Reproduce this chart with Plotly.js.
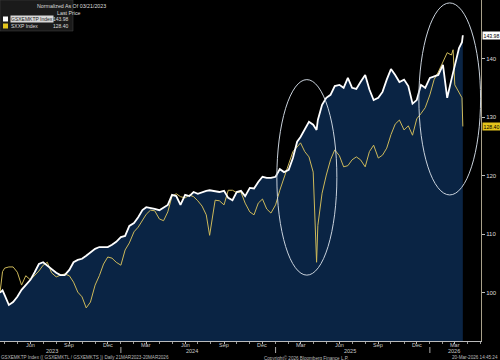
<!DOCTYPE html>
<html><head><meta charset="utf-8">
<script src="https://cdn.plot.ly/plotly-3.0.1.min.js"></script>
<style>html,body{margin:0;padding:0;background:#000;}#chart{width:500px;height:360px;}</style>
</head><body><div id="chart"></div>
<script>
// ---- data (normalized to 100 on 03/21/2023) ----
const dates = [
'2023-03-21','2023-03-27','2023-04-01','2023-04-11','2023-04-21','2023-05-01','2023-05-11','2023-05-21',
'2023-06-01','2023-06-11','2023-06-21','2023-07-01','2023-07-11','2023-07-21','2023-08-01','2023-08-11',
'2023-08-21','2023-09-01','2023-09-11','2023-09-21','2023-10-01','2023-10-11','2023-10-21','2023-11-01',
'2023-11-11','2023-11-21','2023-12-01','2023-12-11','2023-12-21','2024-01-01','2024-01-11','2024-01-21',
'2024-02-01','2024-02-11','2024-02-21','2024-03-01','2024-03-11','2024-03-21','2024-04-01','2024-04-11',
'2024-04-21','2024-05-01','2024-05-11','2024-05-21','2024-06-01','2024-06-11','2024-06-21','2024-07-01',
'2024-07-11','2024-07-21','2024-07-29','2024-08-11','2024-08-21','2024-09-01','2024-09-11','2024-09-21',
'2024-10-01','2024-10-11','2024-10-21','2024-11-01','2024-11-11','2024-11-21','2024-12-01','2024-12-11',
'2024-12-21','2025-01-01','2025-01-11','2025-01-21','2025-02-01','2025-02-11','2025-02-21','2025-03-01',
'2025-03-11','2025-03-21','2025-03-31','2025-04-03','2025-04-08','2025-04-11','2025-04-21','2025-05-01',
'2025-05-11','2025-05-21','2025-06-01','2025-06-11','2025-06-21','2025-07-01','2025-07-11','2025-07-21',
'2025-08-01','2025-08-11','2025-08-21','2025-09-01','2025-09-11','2025-09-21','2025-10-01','2025-10-11',
'2025-10-21','2025-11-01','2025-11-11','2025-11-21','2025-12-01','2025-12-11','2025-12-21','2026-01-01',
'2026-01-11','2026-01-21','2026-02-01','2026-02-11','2026-02-21','2026-02-25','2026-03-01','2026-03-11',
'2026-03-18','2026-03-20'];
const gsxemktp = [
100.0,100.4,99.6,97.9,98.4,99.3,100.5,101.3,
102.2,103.5,104.9,105.2,104.6,103.9,103.4,103.0,
103.0,103.9,105.2,105.6,105.8,106.3,106.8,107.5,
107.8,107.8,107.8,108.2,108.7,109.5,109.7,111.4,
111.9,112.9,114.1,114.6,114.5,114.3,114.1,114.5,
115.0,116.7,116.5,115.0,116.7,116.5,117.2,116.9,
117.2,117.4,117.5,117.4,117.2,117.4,116.2,115.8,
117.2,117.4,116.5,117.9,117.8,118.9,119.8,119.6,
119.6,119.8,121.1,120.6,121.0,123.0,125.8,126.6,
127.8,129.2,128.7,128.3,127.8,129.5,132.1,133.3,
133.8,135.3,135.5,135.0,136.7,135.0,134.8,136.0,
137.2,134.7,132.9,133.3,134.3,136.4,138.2,137.2,
136.0,136.4,135.3,132.3,132.9,135.5,135.0,136.7,
137.0,137.2,138.9,133.3,136.4,137.5,138.9,141.8,
142.8,143.98];
const sxxp = [
100.0,103.6,104.2,104.4,104.4,103.5,101.3,102.9,
102.2,102.9,103.7,104.7,105.2,103.4,102.7,103.0,
103.2,102.9,101.8,100.1,99.3,97.4,98.4,101.3,
102.9,104.9,106.1,105.9,105.2,104.7,107.3,108.5,
110.4,111.2,112.4,113.4,114.1,114.0,112.6,112.3,
113.8,116.5,116.9,116.4,116.2,116.7,116.4,115.7,
114.8,113.3,109.8,115.8,115.7,115.0,117.5,117.5,
117.1,117.2,115.3,113.8,113.3,115.3,116.0,114.3,
113.6,115.0,117.5,119.6,122.2,124.1,124.9,125.6,
124.1,123.2,120.6,115.0,105.2,111.5,117.0,120.1,
122.7,124.4,123.4,121.5,121.7,122.7,123.2,122.7,
121.5,124.1,125.2,123.0,123.5,124.7,127.0,128.8,
129.5,127.8,128.5,126.9,129.7,130.6,131.6,133.8,
136.4,137.7,139.4,141.0,140.6,141.5,135.5,134.3,
133.3,128.40];
const seriesNames = ['GSXEMKTP Index','SXXP Index'];
const monthTickDates = ['2023-06-01','2023-09-01','2023-12-01','2024-03-01','2024-06-01','2024-09-01','2024-12-01',
  '2025-03-01','2025-06-01','2025-09-01','2025-12-01','2026-03-01'];
const monthTickText = ['Jun','Sep','Dec','Mar','Jun','Sep','Dec','Mar','Jun','Sep','Dec','Mar'];
const yearLabels = ['2023','2024','2025','2026'];
const yearLabelDates = ['2023-07-22','2024-06-18','2025-06-26','2026-02-27'];
const yearBreaks = ['2024-01-01','2025-01-01','2026-01-01'];
const yTicks = [100,110,120,130,140];

// ---- layout helpers ----
const PW = 481, PH = 341;
const px = v => v / PW;
const py = v => 1 - v / PH;
const FONT = 'Liberation Sans, Arial, sans-serif';
const WHITE = '#ffffff', YEL = '#cdb95a', YEL_TAG = '#e3c41c', NAVY = '#0a2444';

const lastW = gsxemktp[gsxemktp.length - 1];
const lastS = sxxp[sxxp.length - 1];

const traces = [
  {x: dates, y: gsxemktp, type: 'scatter', mode: 'lines', fill: 'tozeroy', fillcolor: NAVY,
   line: {width: 0, color: NAVY}, hoverinfo: 'skip', showlegend: false},
  {x: dates, y: sxxp, type: 'scatter', mode: 'lines', name: seriesNames[1],
   line: {width: 1, color: YEL}, showlegend: false},
  {x: dates, y: gsxemktp, type: 'scatter', mode: 'lines', name: seriesNames[0],
   line: {width: 1.8, color: WHITE}, showlegend: false}
];

const annotations = [];
const shapes = [];

// month labels under the axis
monthTickText.forEach((t, i) => annotations.push({xref: 'x', x: monthTickDates[i], yref: 'paper', y: py(344.5), yanchor: 'middle',
  text: t, showarrow: false, borderpad: 0, font: {family: FONT, size: 5.5, color: '#cccccc'}}));

// last price tags
annotations.push({xref: 'paper', x: px(482.5), xanchor: 'left', yref: 'y', y: lastW, yanchor: 'middle',
  text: lastW.toFixed(2), showarrow: false, bgcolor: '#ffffff', font: {family: FONT, size: 5.2, color: '#000'}, borderpad: 0.5});
annotations.push({xref: 'paper', x: px(482.5), xanchor: 'left', yref: 'y', y: lastS, yanchor: 'middle',
  text: lastS.toFixed(2), showarrow: false, bgcolor: YEL_TAG, font: {family: FONT, size: 5.2, color: '#000'}, borderpad: 0.5});

// year labels
yearLabels.forEach((t, i) => annotations.push({xref: 'x', x: yearLabelDates[i], yref: 'paper', y: py(351), yanchor: 'middle',
  text: t, showarrow: false, borderpad: 0, font: {family: FONT, size: 5.5, color: '#cccccc'}}));
yearBreaks.forEach(d => shapes.push({type: 'line', xref: 'x', yref: 'paper', x0: d, x1: d, y0: py(347), y1: py(353),
  line: {color: '#aaaaaa', width: 1}}));

// footer
const footY = py(357.5);
const footFont = {family: FONT, size: 4.6, color: '#bbbbbb'};
annotations.push({xref: 'paper', x: 0, xanchor: 'left', yref: 'paper', y: footY, yanchor: 'middle', showarrow: false, borderpad: 0,
  text: 'GSXEMKTP Index (( GSXEMKTL / GSXEMKTS )) Daily 21MAR2023-20MAR2026', font: footFont});
annotations.push({xref: 'paper', x: px(263), xanchor: 'left', yref: 'paper', y: footY, yanchor: 'middle', showarrow: false, borderpad: 0,
  text: 'Copyright\u00a9 2026 Bloomberg Finance L.P.', font: footFont});
annotations.push({xref: 'paper', x: px(499), xanchor: 'right', yref: 'paper', y: footY, yanchor: 'middle', showarrow: false, borderpad: 0,
  text: '20-Mar-2026 14:45:24', font: footFont});

// legend box
shapes.push({type: 'rect', xref: 'paper', yref: 'paper', x0: 0, x1: px(73), y0: py(31), y1: 1,
  fillcolor: '#1a1a1a', line: {color: '#444', width: 0.5}, layer: 'above'});
annotations.push({xref: 'paper', x: px(36), yref: 'paper', y: py(6), yanchor: 'middle', showarrow: false, borderpad: 0,
  text: 'Normalized As Of 03/21/2023', font: {family: FONT, size: 5.3, color: '#dddddd'}});
annotations.push({xref: 'paper', x: px(56), yref: 'paper', y: py(13), yanchor: 'middle', showarrow: false, borderpad: 0,
  text: 'Last Price', font: {family: FONT, size: 5.3, color: '#dddddd'}});
shapes.push({type: 'rect', xref: 'paper', yref: 'paper', x0: px(3), x1: px(8), y0: py(21.5), y1: py(16.5),
  fillcolor: WHITE, line: {width: 0}, layer: 'above'});
shapes.push({type: 'rect', xref: 'paper', yref: 'paper', x0: px(3), x1: px(8), y0: py(28.5), y1: py(23.5),
  fillcolor: YEL_TAG, line: {width: 0}, layer: 'above'});
annotations.push({xref: 'paper', x: px(10), xanchor: 'left', yref: 'paper', y: py(19), yanchor: 'middle', showarrow: false,
  text: seriesNames[0], bgcolor: '#d8d8d8', borderpad: 0, font: {family: FONT, size: 5, color: '#222'}});
annotations.push({xref: 'paper', x: px(10), xanchor: 'left', yref: 'paper', y: py(26), yanchor: 'middle', showarrow: false, borderpad: 0,
  text: seriesNames[1], font: {family: FONT, size: 5, color: '#dddddd'}});
annotations.push({xref: 'paper', x: px(70), xanchor: 'right', yref: 'paper', y: py(19), yanchor: 'middle', showarrow: false, borderpad: 0,
  text: lastW.toFixed(2), font: {family: FONT, size: 5, color: '#dddddd'}});
annotations.push({xref: 'paper', x: px(70), xanchor: 'right', yref: 'paper', y: py(26), yanchor: 'middle', showarrow: false, borderpad: 0,
  text: lastS.toFixed(2), font: {family: FONT, size: 5, color: '#dddddd'}});

// highlight ellipses
shapes.push({type: 'circle', xref: 'x', yref: 'y', x0: '2025-01-04', x1: '2025-05-26', y0: 103.0, y1: 136.4,
  line: {color: '#c9d2dc', width: 1}, layer: 'above'});
shapes.push({type: 'circle', xref: 'x', yref: 'y', x0: '2025-12-06', x1: '2026-05-01', y0: 116.7, y1: 149.5,
  line: {color: '#c9d2dc', width: 1}, layer: 'above'});

const layout = {
  width: 500, height: 360, autosize: false,
  margin: {l: 0, r: 19, t: 0, b: 19, pad: 0},
  paper_bgcolor: '#000000', plot_bgcolor: '#000000',
  showlegend: false,
  font: {family: FONT, color: '#cccccc'},
  xaxis: {type: 'date', range: ['2023-03-21', '2026-05-02'], showgrid: false, zeroline: false,
    showline: true, linecolor: '#bbbbbb', linewidth: 1, ticks: 'outside', ticklen: 2, tickcolor: '#bbbbbb',
    tickmode: 'array', tickvals: monthTickDates, ticktext: monthTickText.map(() => ''),
    minor: {ticks: 'outside', ticklen: 2, dtick: 'M1', tick0: '2023-01-01', tickcolor: '#999999'}},
  yaxis: {side: 'right', range: [91.75, 150], showgrid: false, zeroline: false,
    showline: true, linecolor: '#a8a08a', linewidth: 1, ticks: 'outside', ticklen: 3, tickcolor: '#bbbbbb',
    tickmode: 'array', tickvals: yTicks, tickfont: {family: FONT, size: 6, color: '#dddddd'}},
  annotations: annotations, shapes: shapes
};

Plotly.newPlot('chart', traces, layout, {displayModeBar: false, staticPlot: true});
</script></body></html>
